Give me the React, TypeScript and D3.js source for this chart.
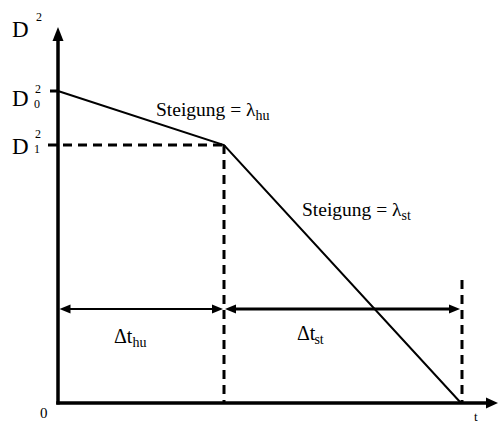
import React, { useEffect, useRef } from "react";
import * as d3 from "d3";

// Droplet lifetime model: squared diameter over time, two linear regimes
const timePoints = [0, 1.66, 4.03];        // t = 0, end of heat-up, end of life
const dSquared = [3.12, 2.58, 0];           // D0^2, D1^2, 0
const axisMax = { t: 4.4, d: 3.76 };
const spanLevel = 0.94;                      // height of the dimension arrows
const endMarkerTop = 1.23;                   // top of the dashed end marker
const slopeLabels = ["hu", "st"];
const spanLabels = ["hu", "st"];

const LAMBDA = "\u03bb";
const DELTA = "\u0394";

const W = 498;
const H = 424;
const SERIF = "Liberation Serif";

export default function App() {
  const ref = useRef<SVGSVGElement | null>(null);

  useEffect(() => {
    const svg = d3.select(ref.current);
    svg.selectAll("*").remove();

    const x = d3.scaleLinear().domain([0, axisMax.t]).range([58, 498]);
    const y = d3.scaleLinear().domain([0, axisMax.d]).range([403, 27]);

    const x0 = x(0);
    const y0 = y(0);
    const xb = x(timePoints[1]);
    const xe = x(timePoints[2]);
    const ya = y(spanLevel);
    const dash = "9 6";

    // filled arrowhead pointing in direction (dx, dy) with tip at (tx, ty)
    const head = (tx: number, ty: number, dx: number, dy: number, len = 11, half = 4.5) => {
      const bx = tx - dx * len;
      const by = ty - dy * len;
      const px = -dy * half;
      const py = dx * half;
      return `M${tx},${ty}L${bx + px},${by + py}L${bx - px},${by - py}Z`;
    };

    const seg = (x1: number, y1: number, x2: number, y2: number, w: number, dashed = false) => {
      const l = svg
        .append("line")
        .attr("x1", x1)
        .attr("y1", y1)
        .attr("x2", x2)
        .attr("y2", y2)
        .attr("stroke", "#000")
        .attr("stroke-width", w);
      if (dashed) l.attr("stroke-dasharray", dash);
    };
    const tri = (d: string) => svg.append("path").attr("d", d).attr("fill", "#000");

    // dashed guides at D1^2 and at the two time marks
    seg(48, y(dSquared[1]), xb, y(dSquared[1]), 3, true);
    seg(xb, y(dSquared[1]), xb, y0, 3, true);
    seg(xe + 1, y(endMarkerTop), xe + 1, y0, 3, true);

    // D0^2 tick
    seg(50, y(dSquared[0]), x0, y(dSquared[0]), 3);

    // diameter-squared curve
    const line = d3
      .line<number>()
      .x((_, i) => x(timePoints[i]))
      .y((d) => y(d));
    svg
      .append("path")
      .attr("d", line(dSquared) ?? "")
      .attr("fill", "none")
      .attr("stroke", "#000")
      .attr("stroke-width", 2);

    // axes
    seg(x0, y0 + 1.5, x0, y(axisMax.d) + 8, 3.5);
    tri(head(x0, y(axisMax.d), 0, -1, 14, 5.5));
    seg(x0 - 1.75, y0, x(axisMax.t) - 8, y0, 3.5);
    tri(head(x(axisMax.t), y0, 1, 0, 12, 5.5));

    // time-span dimension arrows
    seg(x0 + 8, ya, xb - 8, ya, 2);
    tri(head(x0 + 1.5, ya, -1, 0));
    tri(head(xb - 1, ya, 1, 0));
    seg(xb + 8, ya, xe - 8, ya, 3);
    tri(head(xb + 1, ya, -1, 0));
    tri(head(xe - 1, ya, 1, 0));

    // labels with an optional lowered suffix
    const label = (tx: number, ty: number, size: number, main: string, sub?: string, subDx = 0) => {
      const t = svg
        .append("text")
        .attr("x", tx)
        .attr("y", ty)
        .attr("font-family", SERIF)
        .style("font-family", `"${SERIF}", serif`)
        .attr("font-size", size)
        .text(main);
      if (sub) {
        t.append("tspan").attr("font-size", 14).attr("dy", 4).attr("dx", subDx).text(sub);
      }
    };

    label(12, 37, 23, "D");
    label(36, 21, 12, "2");

    label(12, 106, 23, "D");
    label(35, 93, 12, "2");
    label(34, 108, 12, "0");

    label(12, 154, 23, "D");
    label(35, 138, 12, "2");
    label(34, 153, 12, "1");

    label(40, 418, 15, "0");
    label(474, 421, 13, "t");

    label(156, 116, 19.5, `Steigung = ${LAMBDA}`, slopeLabels[0]);
    label(302, 216, 19.5, `Steigung = ${LAMBDA}`, slopeLabels[1]);

    label(114, 343, 20, `${DELTA}t`, spanLabels[0]);
    label(297, 340, 20, `${DELTA}t`, spanLabels[1], -1);
  }, []);

  return (
    <svg
      ref={ref}
      width={W}
      height={H}
      fontFamily={SERIF}
      style={{ position: "absolute", left: 0, top: 0, fontFamily: `"${SERIF}", serif` }}
    />
  );
}
